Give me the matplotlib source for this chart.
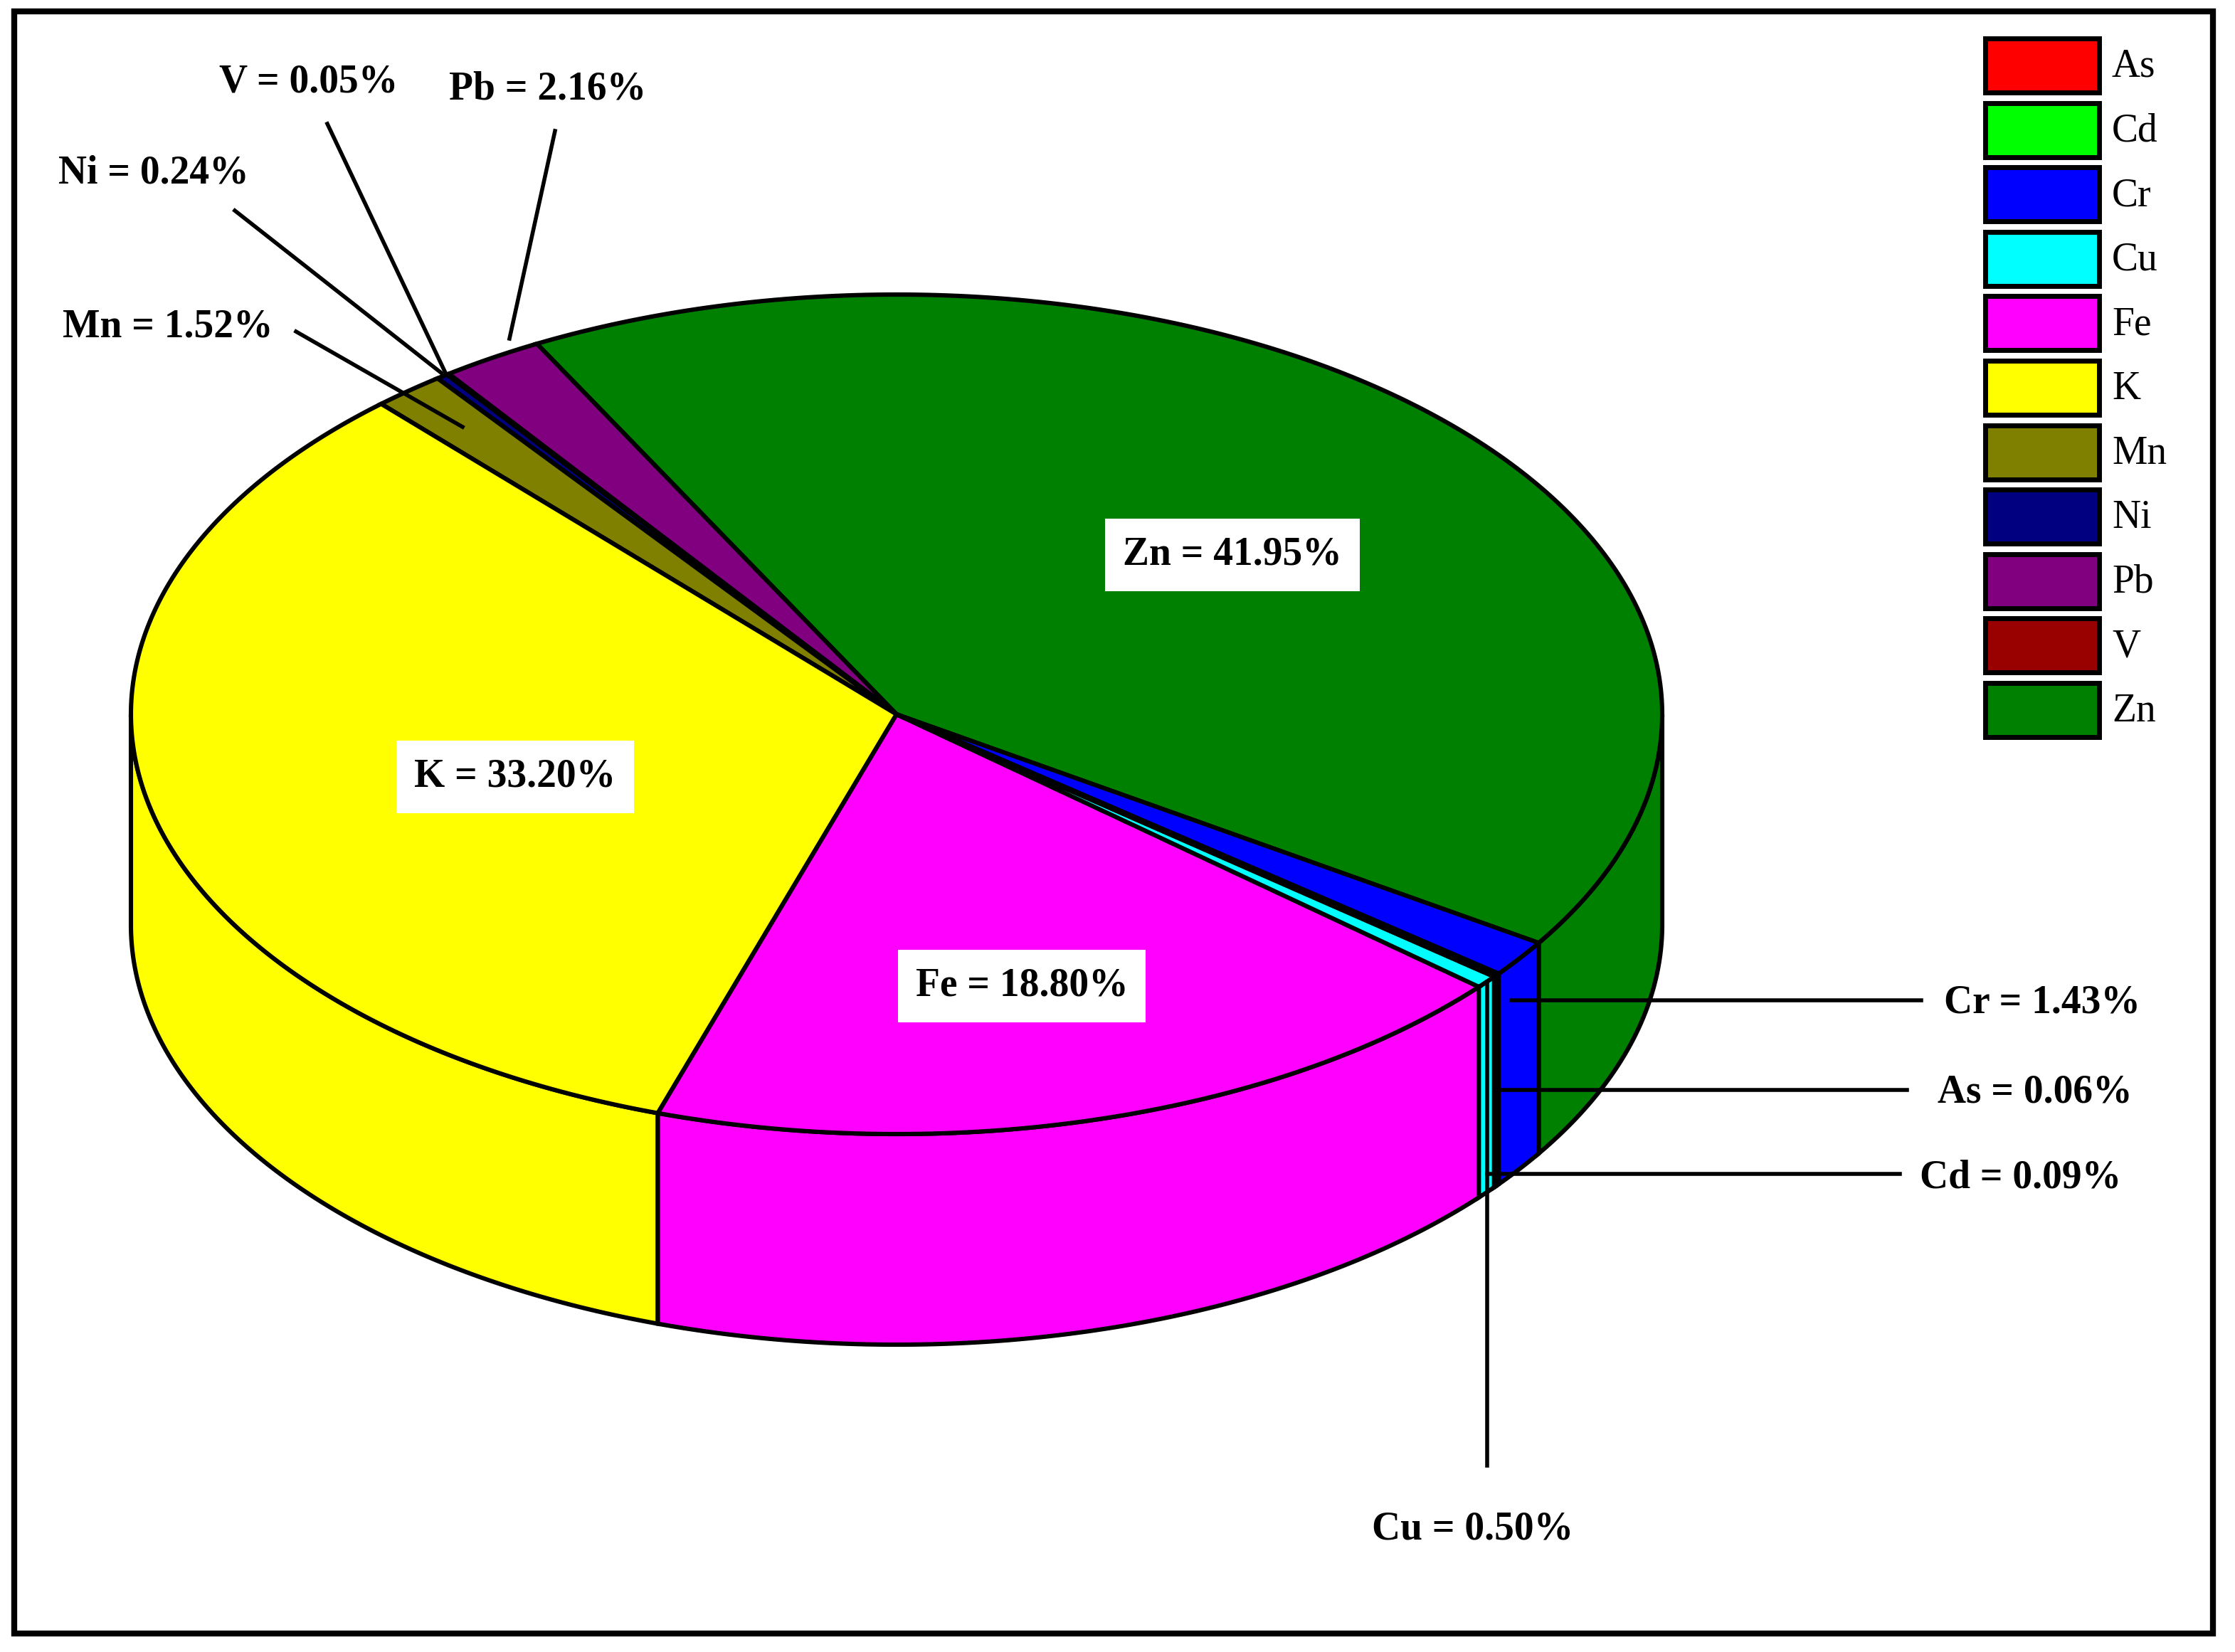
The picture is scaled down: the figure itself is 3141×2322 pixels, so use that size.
import numpy as np
import matplotlib
matplotlib.use("Agg")
import matplotlib.pyplot as plt
from matplotlib.patches import Polygon, Rectangle

# Data (pie order, counter-clockwise from the Zn/Cr boundary)
elements = ["Zn", "Pb", "V", "Ni", "Mn", "K", "Fe", "Cu", "Cd", "As", "Cr"]
shares = [41.95, 2.16, 0.05, 0.24, 1.52, 33.20, 18.80, 0.50, 0.09, 0.06, 1.43]
legend_order = ["As", "Cd", "Cr", "Cu", "Fe", "K", "Mn", "Ni", "Pb", "V", "Zn"]
colors = {"As": "#FF0000", "Cd": "#00FF00", "Cr": "#0000FF", "Cu": "#00FFFF",
          "Fe": "#FF00FF", "K": "#FFFF00", "Mn": "#808000", "Ni": "#000080",
          "Pb": "#800080", "V": "#990000", "Zn": "#008000"}

fig = plt.figure(figsize=(15.705, 11.61), dpi=200)
ax = fig.add_axes([0, 0, 1, 1])
ax.set_xlim(0, 1570.5)
ax.set_ylim(1161, 0)
ax.axis("off")

cx, cy, rx, ry, depth = 630, 502, 538, 295, 148
start = -33.0

def arc(a0, a1, dy=0, n=200):
    t = np.radians(np.linspace(a0, a1, n))
    return np.column_stack([cx + rx * np.cos(t), cy - ry * np.sin(t) + dy])

angles = start + np.concatenate([[0], np.cumsum(shares)]) * 3.6
lw = 2.2
# side walls
for el, a0, a1 in zip(elements, angles[:-1], angles[1:]):
    for lo, hi in [(-180, 0), (180, 360)]:
        b0, b1 = max(a0, lo), min(a1, hi)
        if b1 > b0:
            top = arc(b0, b1)
            bot = arc(b1, b0, dy=depth)
            ax.add_patch(Polygon(np.vstack([top, bot]), closed=True,
                                 facecolor=colors[el], edgecolor="black", lw=lw))
# top faces
for el, a0, a1 in zip(elements, angles[:-1], angles[1:]):
    pts = np.vstack([[cx, cy], arc(a0, a1)])
    ax.add_patch(Polygon(pts, closed=True, facecolor=colors[el],
                         edgecolor="black", lw=lw))

font = dict(family="Liberation Serif", fontweight="bold", fontsize=20)
box = dict(boxstyle="square,pad=0.45", facecolor="white", edgecolor="none")
ax.text(866, 390, "Zn = 41.95%", ha="center", va="center", bbox=box, **font)
ax.text(362, 546, "K = 33.20%", ha="center", va="center", bbox=box, **font)
ax.text(718, 693, "Fe = 18.80%", ha="center", va="center", bbox=box, **font)

leaders = [
    ("Cr = 1.43%", (1062, 703), (1350, 703), (1435, 705)),
    ("As = 0.06%", (1050, 766), (1340, 766), (1430, 768)),
    ("Cd = 0.09%", (1045, 825), (1335, 825), (1420, 828)),
    ("Cu = 0.50%", (1045, 690), (1045, 1030), (1035, 1075)),
    ("Mn = 1.52%", (325, 300), (208, 233), (118, 230)),
    ("Ni = 0.24%", (310, 262), (165, 148), (108, 122)),
    ("V = 0.05%", (313, 262), (230, 87), (217, 58)),
    ("Pb = 2.16%", (358, 238), (390, 92), (385, 63)),
]
for txt, p0, p1, pt in leaders:
    ax.plot([p0[0], p1[0]], [p0[1], p1[1]], color="black", lw=2)
    ax.text(pt[0], pt[1], txt, ha="center", va="center", **font)

# legend
for i, el in enumerate(legend_order):
    y = 27 + i * 45.3
    ax.add_patch(Rectangle((1395, y), 80, 38, facecolor=colors[el],
                           edgecolor="black", lw=2.5))
    ax.text(1484, y + 20, el, ha="left", va="center",
            family="Liberation Serif", fontsize=20)

ax.add_patch(Rectangle((10, 8), 1545, 1140, fill=False, edgecolor="black", lw=3))

fig.savefig("out.png", dpi=200)
